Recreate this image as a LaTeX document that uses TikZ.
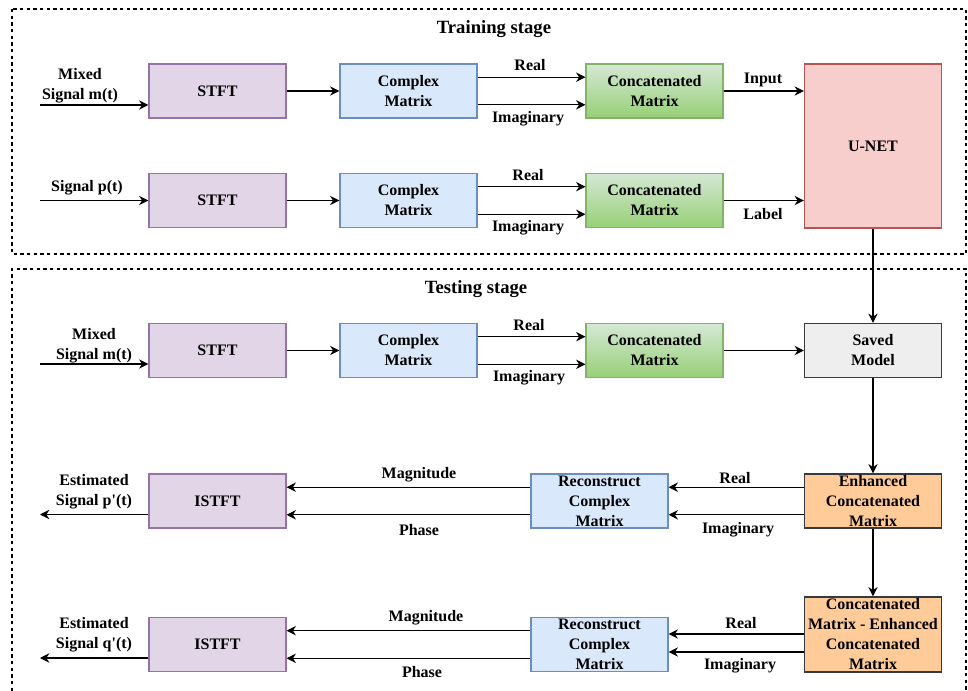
\documentclass[tikz,border=0pt]{standalone}
\usepackage{fontspec}
\setmainfont{Liberation Serif}
\usetikzlibrary{arrows.meta,calc}

\definecolor{stftfill}{HTML}{E1D5E7}
\definecolor{stftline}{HTML}{9673A6}
\definecolor{cmfill}{HTML}{DAE8FC}
\definecolor{cmline}{HTML}{6C8EBF}
\definecolor{cctop}{HTML}{D5E8D4}
\definecolor{ccbot}{HTML}{97D077}
\definecolor{ccline}{HTML}{82B366}
\definecolor{unfill}{HTML}{F8CECC}
\definecolor{unline}{HTML}{B85450}
\definecolor{smfill}{HTML}{EEEEEE}
\definecolor{darkline}{HTML}{36393D}
\definecolor{enfill}{HTML}{FFCC99}

\tikzset{
  blk/.style={draw, line width=0.9pt, minimum width=102.75pt, minimum height=40.5pt,
    align=center, inner sep=1pt},
  stftbox/.style={blk, fill=stftfill, draw=stftline},
  cmbox/.style={blk, fill=cmfill, draw=cmline},
  ccbox/.style={blk, top color=cctop, bottom color=ccbot, draw=ccline},
  unbox/.style={blk, fill=unfill, draw=unline, minimum height=123pt},
  smbox/.style={blk, fill=smfill, draw=darkline},
  enbox/.style={blk, fill=enfill, draw=darkline},
  lbl/.style={align=center, inner sep=0pt},
  arr/.style={-{Stealth[length=7pt,width=7pt]}, line width=0.8pt},
  stage/.style={dash pattern=on 2.5pt off 2.5pt, line width=0.8pt}
}

\begin{document}
\begin{tikzpicture}[x=0.75pt,y=-0.75pt,font=\bfseries\fontsize{12}{15}\selectfont]
\useasboundingbox (0,0) rectangle (968,691);

% stages
\draw[stage] (12,9) rectangle (966,254);
\draw[stage] (12,691) -- (12,269) -- (966,269) -- (966,691);
\node[lbl,font=\bfseries\fontsize{14}{16}\selectfont] (trn) at (494,29) {Training stage};
\node[lbl,font=\bfseries\fontsize{14}{16}\selectfont] (tst) at (476,289) {Testing stage};

% training stage, first row
\node[stftbox] (st1) at (217.5,91) {STFT};
\node[cmbox] (cm1) at (408.5,91) {Complex\\Matrix};
\node[ccbox] (cc1) at (654.5,91) {Concatenated\\Matrix};
\node[unbox] (un) at (873,146) {U-NET};

% training stage, second row
\node[stftbox] (st2) at (217.5,200.5) {STFT};
\node[cmbox] (cm2) at (408.5,200.5) {Complex\\Matrix};
\node[ccbox] (cc2) at (654.5,200.5) {Concatenated\\Matrix};

% testing stage
\node[stftbox] (st3) at (217.5,350.5) {STFT};
\node[cmbox] (cm3) at (408.5,350.5) {Complex\\Matrix};
\node[ccbox] (cc3) at (654.5,350.5) {Concatenated\\Matrix};
\node[smbox] (sm) at (873,350.5) {Saved\\Model};

\node[enbox] (en1) at (873,501) {Enhanced\\Concatenated\\Matrix};
\node[cmbox] (rc1) at (599.5,501) {Reconstruct\\Complex\\Matrix};
\node[stftbox] (is1) at (217.5,501) {ISTFT};

\node[enbox,minimum height=56.25pt] (en2) at (873,634.5) {Concatenated\\Matrix - Enhanced\\Concatenated\\Matrix};
\node[cmbox] (rc2) at (599.5,644.5) {Reconstruct\\Complex\\Matrix};
\node[stftbox] (is2) at (217.5,644.5) {ISTFT};

% free ends
\coordinate (in1) at (40,105);
\coordinate (in2) at (40,200.5);
\coordinate (in3) at (40,364);
\coordinate (out1) at (40,514.5);
\coordinate (out2) at (40,658);

% training arrows
\draw[arr] (in1) -- (st1.west |- in1);
\draw[arr] (st1) -- (cm1);
\draw[arr] ($(cm1.north east)!0.25!(cm1.south east)$) -- ($(cc1.north west)!0.25!(cc1.south west)$);
\draw[arr] ($(cm1.north east)!0.75!(cm1.south east)$) -- ($(cc1.north west)!0.75!(cc1.south west)$);
\draw[arr] (cc1) -- (un.west |- cc1);

\draw[arr] (in2) -- (st2.west |- in2);
\draw[arr] (st2) -- (cm2);
\draw[arr] ($(cm2.north east)!0.25!(cm2.south east)$) -- ($(cc2.north west)!0.25!(cc2.south west)$);
\draw[arr] ($(cm2.north east)!0.75!(cm2.south east)$) -- ($(cc2.north west)!0.75!(cc2.south west)$);
\draw[arr] (cc2) -- (un.west |- cc2);

\draw[arr] (un) -- (sm);

% testing arrows
\draw[arr] (in3) -- (st3.west |- in3);
\draw[arr] (st3) -- (cm3);
\draw[arr] ($(cm3.north east)!0.25!(cm3.south east)$) -- ($(cc3.north west)!0.25!(cc3.south west)$);
\draw[arr] ($(cm3.north east)!0.75!(cm3.south east)$) -- ($(cc3.north west)!0.75!(cc3.south west)$);
\draw[arr] (cc3) -- (sm);
\draw[arr] (sm) -- (en1);
\draw[arr] (en1) -- (en2);

\draw[arr] ($(en1.north west)!0.25!(en1.south west)$) -- ($(rc1.north east)!0.25!(rc1.south east)$);
\draw[arr] ($(en1.north west)!0.75!(en1.south west)$) -- ($(rc1.north east)!0.75!(rc1.south east)$);
\draw[arr] ($(rc1.north west)!0.25!(rc1.south west)$) -- ($(is1.north east)!0.25!(is1.south east)$);
\draw[arr] ($(rc1.north west)!0.75!(rc1.south west)$) -- ($(is1.north east)!0.75!(is1.south east)$);
\draw[arr] (is1.west |- out1) -- (out1);

\draw[arr] (en2.west |- 0,634) -- (rc2.east |- 0,634);
\draw[arr] (en2.west |- 0,652) -- (rc2.east |- 0,652);
\draw[arr] ($(rc2.north west)!0.25!(rc2.south west)$) -- ($(is2.north east)!0.25!(is2.south east)$);
\draw[arr] ($(rc2.north west)!0.75!(rc2.south west)$) -- ($(is2.north east)!0.75!(is2.south east)$);
\draw[arr] (is2.west |- out2) -- (out2);

% labels
\node[lbl] (lm1) at (80,85.5) {Mixed\\Signal m(t)};
\node[lbl] (lp1) at (87,188) {Signal p(t)};
\node[lbl] (lm2) at (94,345.5) {Mixed\\Signal m(t)};
\node[lbl] (le1) at (94,492) {Estimated\\Signal p\textquotesingle(t)};
\node[lbl] (le2) at (94,635) {Estimated\\Signal q\textquotesingle(t)};

\node[lbl] (re1) at (530,65) {Real};
\node[lbl] (im1) at (528,119) {Imaginary};
\node[lbl] (re2) at (528,175) {Real};
\node[lbl] (im2) at (528,228) {Imaginary};
\node[lbl] (ip) at (763,80) {Input};
\node[lbl] (lb) at (763,214) {Label};
\node[lbl] (re3) at (529,325) {Real};
\node[lbl] (im3) at (529,378) {Imaginary};

\node[lbl] (re4) at (735,478) {Real};
\node[lbl] (im4) at (738,530) {Imaginary};
\node[lbl] (mg1) at (419,475) {Magnitude};
\node[lbl] (ph1) at (419,530) {Phase};
\node[lbl] (re5) at (741,623) {Real};
\node[lbl] (im5) at (740,666) {Imaginary};
\node[lbl] (mg2) at (426,618) {Magnitude};
\node[lbl] (ph2) at (422,672) {Phase};
\end{tikzpicture}
\end{document}
